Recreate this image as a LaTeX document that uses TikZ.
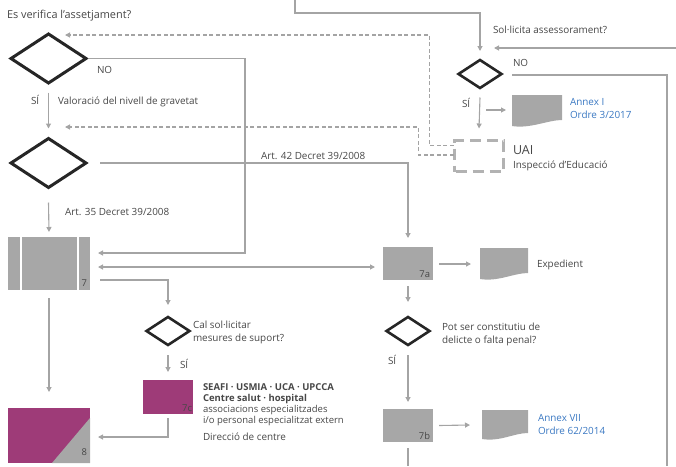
\documentclass[tikz,border=0pt]{standalone}
\usepackage{fontspec}
\setmainfont{Open Sans}
\usetikzlibrary{shapes.geometric,arrows.meta,calc}
\definecolor{lgray}{HTML}{A4A4A4}
\definecolor{boxgray}{HTML}{A7A7A7}
\definecolor{magentab}{HTML}{9E3B78}
\definecolor{txt}{HTML}{474747}
\definecolor{bluet}{HTML}{3A78C2}
\begin{document}
\begin{tikzpicture}[x=1pt,y=-1pt,
  every node/.style={outer sep=0pt},
  tip/.tip={Triangle[length=5pt,width=5pt]},
  plain/.style={draw=lgray, line width=1.1pt},
  conn/.style={plain, -tip},
  dconn/.style={conn, dash pattern=on 4pt off 2.5pt},
  bigdia/.style={diamond, draw=black!85, line width=3pt, minimum width=75pt, minimum height=49pt, inner sep=0pt},
  smalldia/.style={diamond, draw=black!85, line width=2.6pt, minimum width=43pt, minimum height=28pt, inner sep=0pt},
  gbox/.style={rectangle, fill=boxgray, minimum width=50pt, minimum height=33pt, inner sep=0pt},
  mbox/.style={rectangle, fill=magentab, inner sep=0pt},
  docbox/.style={rectangle, inner sep=0pt, minimum width=50pt, minimum height=32pt,
    path picture={\fill[boxgray] (path picture bounding box.north west) -- (path picture bounding box.north east)
      -- ([yshift=7pt]path picture bounding box.south east)
      .. controls ([xshift=-14pt,yshift=7pt]path picture bounding box.south east) and ([xshift=18pt,yshift=-2pt]path picture bounding box.south west)
      .. ([yshift=1pt]path picture bounding box.south west) -- cycle;}},
  lbl/.style={font=\fontsize{9.9}{13}\selectfont, text=txt, inner sep=0pt, anchor=base west, align=left},
  blbl/.style={lbl, text=bluet},
  num/.style={font=\fontsize{9.4}{11}\selectfont, text=txt, inner sep=0pt, anchor=base east},
]
\useasboundingbox (0,0) rectangle (676,466);

% ---------- nodes ----------
\node[bigdia] (d1) at (48.5,58.5) {};
\node[bigdia] (d2) at (48.5,163) {};
\node[smalldia] (d3) at (168,331) {};
\node[smalldia] (d4) at (480,74) {};
\node[smalldia] (d5) at (408,331) {};

\node[gbox, minimum width=82pt, minimum height=53pt] (box7) at (49,263.5) {};
\draw[white, line width=1.5pt] ($(box7.north west)+(13,0)$) -- ($(box7.south west)+(13,0)$);
\draw[white, line width=1.5pt] ($(box7.north east)+(-12,0)$) -- ($(box7.south east)+(-12,0)$);
\node[gbox] (box7a) at (408,263.5) {};
\node[gbox] (box7b) at (408,425.5) {};
\node[mbox, minimum width=50pt, minimum height=34pt] (box7c) at (168,397) {};
\node[mbox, minimum width=82pt, minimum height=55pt] (box8) at (49,435.5) {};
\fill[boxgray] ($(box8.south east)+(0,-45)$) -- (box8.south east) -- ($(box8.south east)+(-38,0)$) -- cycle;

\node[rectangle, draw=lgray!85, line width=3pt, dash pattern=on 11pt off 6pt, dash phase=-1pt,
      minimum width=49pt, minimum height=31pt, inner sep=0pt] (uai) at (479,156) {};

\node[docbox] (docI) at (537,111) {};
\node[docbox, minimum width=48pt] (docE) at (504,264) {};
\node[docbox, minimum width=46pt, minimum height=30pt] (docVII) at (505,425) {};

\node[num] (n7) at ($(box7.south east)+(-3,-4)$) {7};
\node[num] (n7a) at ($(box7a.south east)+(-3,-3)$) {7a};
\node[num] (n7b) at ($(box7b.south east)+(-3,-3)$) {7b};
\node[num] (n7c) at ($(box7c.south east)+(-1,-3)$) {7c};
\node[num] (n8) at ($(box8.south east)+(-3,-8)$) {8};

% ---------- texts ----------
\node[lbl, font=\fontsize{10.9}{13}\selectfont] (t1) at (7,18.5) {Es verifica l’assetjament?};
\node[lbl] (t2) at (97,73) {NO};
\node[lbl] (t3) at (31,104) {SÍ};
\node[lbl] (t4) at (58,104) {Valoració del nivell de gravetat};
\node[lbl] (t5) at (261,159) {Art. 42 Decret 39/2008};
\node[lbl] (t6) at (65,215) {Art. 35 Decret 39/2008};
\node[lbl] (t7) at (493,33) {Sol·licita assessorament?};
\node[lbl] (t8) at (513,66) {NO};
\node[lbl] (t9) at (462,107) {SÍ};
\node[blbl] (t10) at (570,118) {Annex I\\Ordre 3/2017};
\node[lbl, font=\fontsize{12.5}{15}\selectfont] (t11) at (513,154) {UAI};
\node[lbl] (t12) at (513,168) {Inspecció d’Educació};
\node[lbl] (t13) at (537,267) {Expedient};
\node[lbl] (t14) at (193,341) {Cal sol·licitar\\mesures de suport?};
\node[lbl] (t15) at (180,368) {SÍ};
\node[lbl, font=\fontsize{9.5}{11}\selectfont] (t16) at (203,423) {\textbf{SEAFI · USMIA · UCA · UPCCA}\\\textbf{Centre salut · hospital}\\associacions especialitzades\\ i/o personal especialitzat extern};
\node[lbl] (t17) at (203,440) {Direcció de centre};
\node[lbl] (t18) at (442,343) {Pot ser constitutiu de\\delicte o falta penal?};
\node[lbl] (t19) at (388,364) {SÍ};
\node[blbl] (t20) at (538,434) {Annex VII\\Ordre 62/2014};

% ---------- connectors ----------
\coordinate (topin) at (295,0);
\coordinate (rightin) at (676,48);
\coordinate (rightout) at (667,466);
\coordinate (bottomout) at (408,466);

\draw[conn] (topin) -- ++(0,13) -| ($(d4)+(0,-23)$);
\draw[dconn] ($(uai.north west)+(-1,5)$) -- ++(-24,0) |- ($(d1)+(16.5,-23.5)$);
\draw[dconn] ($(uai.west)+(-1,-1)$) -- ++(-35,0) |- ($(d2)+(16.5,-36)$);
\draw[conn] ($(d1.east)+(3,0)$) -- ++(156,0) |- ($(box7.east)+(8,-10.5)$);
\draw[conn] ($(d2.east)+(14,0)$) -| ($(box7a.north)+(0,-9)$);
\draw[plain, tip-tip] ($(box7.east)+(8,3.5)$) -- ($(box7a.west)+(-8,3.5)$);
\draw[conn] ($(box7.east)+(10,16.5)$) -| ($(d3.north)+(0,-12)$);
\draw[conn] ($(d1.south)+(0,9.5)$) -- ($(d2.north)+(0,-10)$);
\draw[conn] ($(d2.south)+(0,15)$) -- ($(box7.north)+(0,-5)$);
\draw[conn] ($(box7.south)+(0,8)$) -- ($(box8.north)+(0,-16)$);
\draw[conn] ($(d3.south)+(0,10)$) -- ($(box7c.north)+(0,-8)$);
\draw[conn] ($(box7c.south)+(0,4)$) |- ($(box8.east)+(8,1.5)$);
\draw[conn] ($(d4.south)+(0,9.5)$) -- ($(uai.north)+(0,-12)$);
\draw[conn] ($(docI.west)+(-26,-1)$) -- ($(docI.west)+(-6,-1)$);
\draw[conn] (rightin) -- ($(d4)+(14,-26)$);
\draw[plain] ($(d4.east)+(10.5,1)$) -| (rightout);
\draw[conn] ($(box7a.east)+(6,0.5)$) -- ($(docE.west)+(-9,0)$);
\draw[conn] ($(box7a.south)+(0,6)$) -- ($(d5.north)+(0,-15)$);
\draw[conn] ($(d5.south)+(0,10)$) -- ($(box7b.north)+(0,-7)$);
\draw[conn] ($(box7b.east)+(6,0)$) -- ($(docVII.west)+(-12,0)$);
\draw[plain] ($(box7b.south)+(0,6)$) -- (bottomout);
\end{tikzpicture}
\end{document}
